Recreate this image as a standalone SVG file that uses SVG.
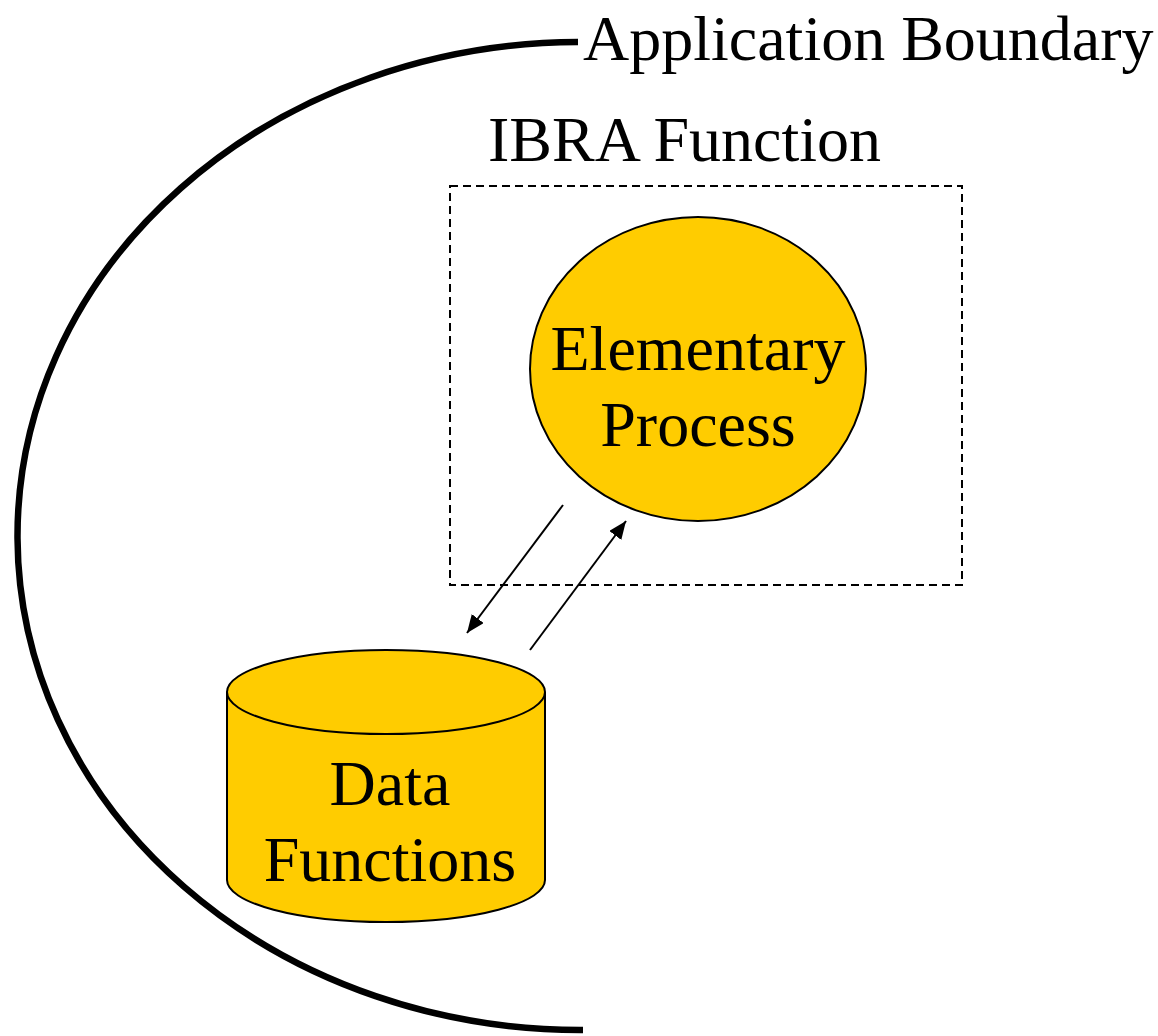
<svg xmlns="http://www.w3.org/2000/svg" width="1158" height="1036" viewBox="0 0 1158 1036">
  <style>
    .lbl { font-family: "Liberation Serif", "Times New Roman", serif; font-size: 64px; fill: #000; }
    .mid { text-anchor: middle; }
    .shape { fill: #FFCC00; stroke: #000; stroke-width: 2; }
    .conn { stroke: #000; stroke-width: 2; fill: none; }
  </style>
  <defs>
    <marker id="head" viewBox="0 0 18 15" refX="18" refY="7.5" markerWidth="18" markerHeight="15" markerUnits="userSpaceOnUse" orient="auto">
      <path d="M0,0 L18,7.5 L0,15 z" fill="#000"/>
    </marker>
  </defs>

  <!-- application boundary -->
  <g id="boundary">
    <path d="M578,42 A563,494 0 0 0 583,1030" fill="none" stroke="#000" stroke-width="6.5"/>
    <text class="lbl" x="583" y="60">Application Boundary</text>
  </g>

  <!-- IBRA function frame -->
  <g id="ibra">
    <rect x="450" y="186" width="512" height="399" fill="none" stroke="#000" stroke-width="2" stroke-dasharray="8,5"/>
    <text class="lbl" x="488" y="161">IBRA Function</text>
  </g>

  <!-- elementary process -->
  <g id="process">
    <ellipse class="shape" cx="698" cy="369" rx="168" ry="152"/>
    <text class="lbl mid" x="698" y="370">Elementary</text>
    <text class="lbl mid" x="698" y="446">Process</text>
  </g>

  <!-- data functions store -->
  <g id="data">
    <path class="shape" d="M227,692 L227,880 A159,42 0 0 0 545,880 L545,692"/>
    <ellipse class="shape" cx="386" cy="692" rx="159" ry="42"/>
    <text class="lbl mid" x="390" y="805">Data</text>
    <text class="lbl mid" x="390" y="881">Functions</text>
  </g>

  <!-- connectors -->
  <g id="connectors">
    <line class="conn" x1="563" y1="505" x2="467" y2="633" marker-end="url(#head)"/>
    <line class="conn" x1="530" y1="650" x2="626" y2="521" marker-end="url(#head)"/>
  </g>
</svg>
